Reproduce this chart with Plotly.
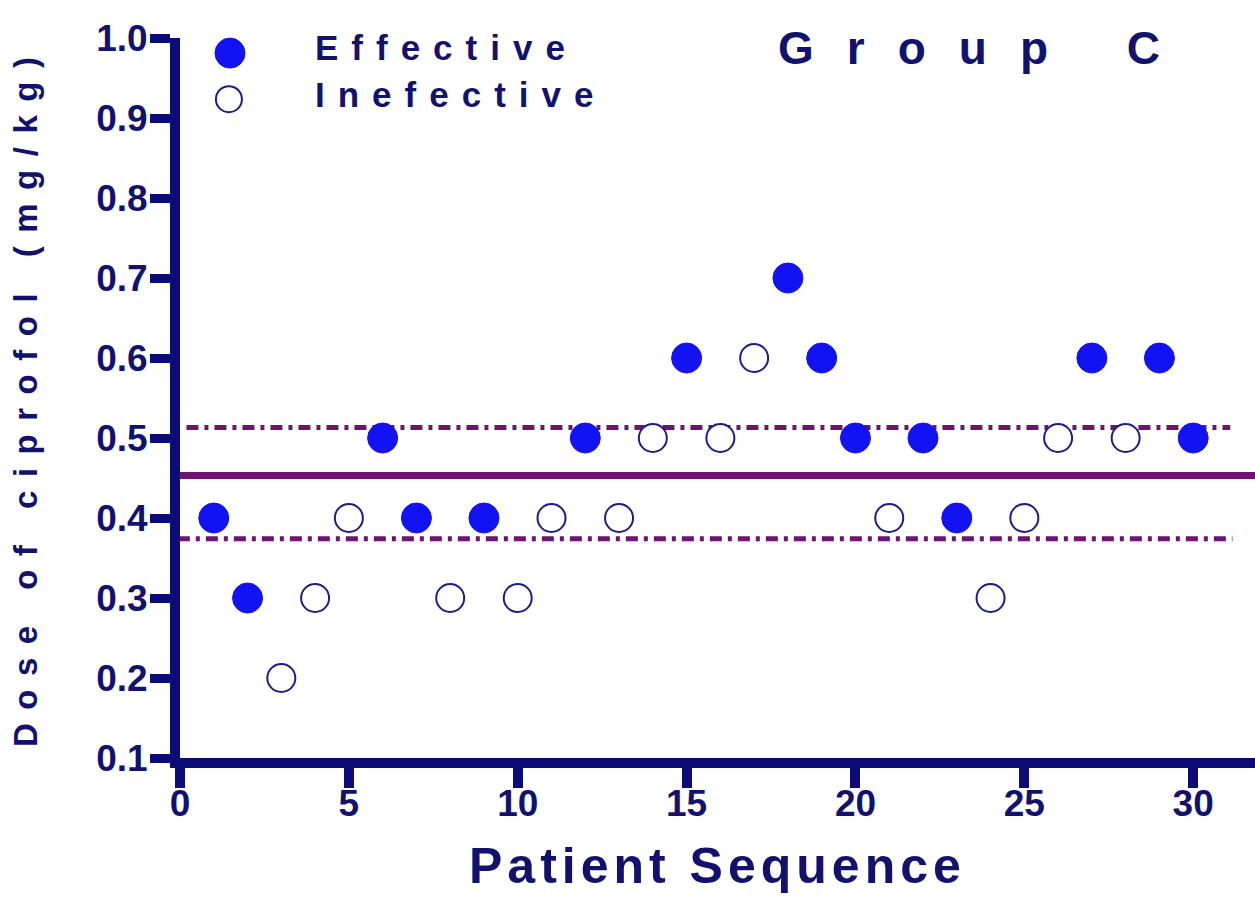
import plotly.graph_objects as go

# ---- data ----
patients = list(range(1, 31))
doses = [0.4, 0.3, 0.2, 0.3, 0.4, 0.5, 0.4, 0.3, 0.4, 0.3,
         0.4, 0.5, 0.4, 0.5, 0.6, 0.5, 0.6, 0.7, 0.6, 0.5,
         0.4, 0.5, 0.4, 0.3, 0.4, 0.5, 0.6, 0.5, 0.6, 0.5]
outcome = ["E", "E", "I", "I", "I", "E", "E", "I", "E", "I",
           "I", "E", "I", "I", "E", "I", "I", "E", "E", "E",
           "I", "E", "E", "I", "I", "I", "E", "I", "E", "E"]
mean_dose = 0.453
ci_upper = 0.513
ci_lower = 0.374
x_ticks = [0, 5, 10, 15, 20, 25, 30]
y_ticks = [0.1, 0.2, 0.3, 0.4, 0.5, 0.6, 0.7, 0.8, 0.9, 1.0]

NAVY = "#0c0c78"
TEXT = "#12126e"
BLUE = "#1212f2"
PURPLE = "#6e1470"
FONT = "Liberation Sans, Arial, sans-serif"

eff_x = [p for p, o in zip(patients, outcome) if o == "E"]
eff_y = [d for d, o in zip(doses, outcome) if o == "E"]
ine_x = [p for p, o in zip(patients, outcome) if o == "I"]
ine_y = [d for d, o in zip(doses, outcome) if o == "I"]

fig = go.Figure()
fig.add_trace(go.Scatter(x=eff_x, y=eff_y, mode="markers", name="Effective",
                         marker=dict(symbol="circle", size=30, color=BLUE,
                                     line=dict(color=BLUE, width=1)),
                         cliponaxis=False, showlegend=False))
fig.add_trace(go.Scatter(x=ine_x, y=ine_y, mode="markers", name="Inefective",
                         marker=dict(symbol="circle", size=28, color="white",
                                     line=dict(color="#1c1c8c", width=2)),
                         cliponaxis=False, showlegend=False))

shapes = [
    dict(type="line", xref="paper", yref="y", x0=0, x1=1, y0=mean_dose, y1=mean_dose,
         line=dict(color=PURPLE, width=7), layer="below"),
    dict(type="line", xref="paper", yref="y", x0=0.006, x1=0.977, y0=ci_upper, y1=ci_upper,
         line=dict(color=PURPLE, width=5, dash="12px,6px,4px,6px"), layer="below"),
    dict(type="line", xref="paper", yref="y", x0=-0.002, x1=0.979, y0=ci_lower, y1=ci_lower,
         line=dict(color=PURPLE, width=5, dash="12px,6px,4px,6px"), layer="below"),
    # legend symbols
    dict(type="circle", xref="paper", yref="paper", xsizemode="pixel", ysizemode="pixel",
         xanchor=0.0465, yanchor=0.979, x0=-15, x1=15, y0=-15, y1=15,
         fillcolor=BLUE, line=dict(color=BLUE, width=1)),
    dict(type="circle", xref="paper", yref="paper", xsizemode="pixel", ysizemode="pixel",
         xanchor=0.0455, yanchor=0.915, x0=-13, x1=13, y0=-13, y1=13,
         fillcolor="white", line=dict(color="#1c1c8c", width=2)),
]

annotations = [
    dict(text="Effective", xref="paper", yref="paper", x=0.1237, y=0.987,
         xanchor="left", yanchor="middle", align="left", showarrow=False,
         font=dict(family=FONT, size=35, color=TEXT, weight="bold")),
    dict(text="Inefective", xref="paper", yref="paper", x=0.1237, y=0.921,
         xanchor="left", yanchor="middle", align="left", showarrow=False,
         font=dict(family=FONT, size=35, color=TEXT, weight="bold")),
    dict(text="Group C", xref="paper", yref="paper", x=0.5545, y=0.986,
         xanchor="left", yanchor="middle", align="left", showarrow=False,
         font=dict(family=FONT, size=46, color=TEXT, weight="bold")),
    dict(text="Dose of ciprofol (mg/kg)", xref="paper", yref="paper", x=-0.1442, y=0.504,
         xanchor="center", yanchor="middle", textangle=-90, showarrow=False,
         font=dict(family=FONT, size=33, color=TEXT, weight="bold")),
    dict(text="Patient Sequence", xref="paper", yref="paper", x=0.5, y=-0.15,
         xanchor="center", yanchor="middle", showarrow=False,
         font=dict(family=FONT, size=50, color=TEXT, weight="bold")),
]

fig.update_layout(
    width=1255, height=921,
    margin=dict(l=180, r=0, t=38, b=163),
    paper_bgcolor="white", plot_bgcolor="white",
    shapes=shapes, annotations=annotations,
    showlegend=False,
)
fig.update_xaxes(range=[0, 31.83], tickvals=x_ticks, ticktext=[str(v) for v in x_ticks],
                 showgrid=False, zeroline=False, showline=True, linecolor=NAVY, linewidth=10,
                 ticks="outside", ticklen=20, tickwidth=10, tickcolor=NAVY,
                 ticklabelstandoff=-16,
                 tickfont=dict(family=FONT, size=37, color=TEXT, weight="bold"))
fig.update_yaxes(range=[0.1, 1.0], tickvals=y_ticks, ticktext=[f"{v:.1f}" for v in y_ticks],
                 showgrid=False, zeroline=False, showline=True, linecolor=NAVY, linewidth=10,
                 ticks="outside", ticklen=20, tickwidth=9, tickcolor=NAVY,
                 ticklabelstandoff=-5,
                 tickfont=dict(family=FONT, size=37, color=TEXT, weight="bold"))

post = """
document.body.style.margin = '0';
document.body.style.overflow = 'hidden';
var gd = document.getElementById('{plot_id}');
var spec = {'Effective': 13, 'Inefective': 13, 'Group C': 33,
            'Dose of ciprofol (mg/kg)': 13.5, 'Patient Sequence': 5};
gd.querySelectorAll('text').forEach(function(t){
  var s = spec[t.textContent];
  if (s !== undefined) { t.style.letterSpacing = s + 'px'; }
});
"""
fig.write_html("out.html", post_script=post, config={"displayModeBar": False})
